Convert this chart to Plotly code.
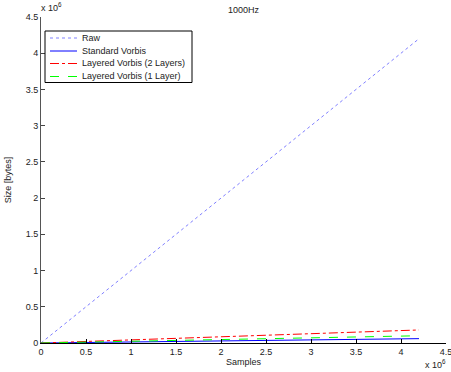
import plotly.graph_objects as go

samples = [0, 0.42e6, 0.84e6, 1.26e6, 1.68e6, 2.1e6, 2.52e6, 2.94e6, 3.36e6, 3.78e6, 4.2e6]
raw = [0, 0.42e6, 0.84e6, 1.26e6, 1.68e6, 2.1e6, 2.52e6, 2.94e6, 3.36e6, 3.78e6, 4.2e6]
standard = [0, 0.006e6, 0.012e6, 0.018e6, 0.024e6, 0.030e6, 0.036e6, 0.042e6, 0.048e6, 0.054e6, 0.060e6]
layered2 = [0, 0.018e6, 0.036e6, 0.054e6, 0.072e6, 0.090e6, 0.108e6, 0.126e6, 0.144e6, 0.162e6, 0.180e6]
layered1 = [0, 0.010e6, 0.020e6, 0.030e6, 0.040e6, 0.050e6, 0.060e6, 0.070e6, 0.080e6, 0.090e6, 0.100e6]

series_names = ["Raw", "Standard Vorbis", "Layered Vorbis (2 Layers)", "Layered Vorbis (1 Layer)"]
series_colors = ["#8080ff", "#0000ff", "#ff0000", "#00ff00"]
series_dash = ["dot", "solid", "dashdot", "dash"]

tick_vals = [0, 0.5e6, 1e6, 1.5e6, 2e6, 2.5e6, 3e6, 3.5e6, 4e6, 4.5e6]
tick_text = ["0", "0.5", "1", "1.5", "2", "2.5", "3", "3.5", "4", "4.5"]

font = "Liberation Sans, Arial, sans-serif"

W, H = 451, 372
ML, MR, MT, MB = 41, 5, 17, 29
PW, PH = W - ML - MR, H - MT - MB


def px(xp):
    return (xp - ML) / PW


def py(yp):
    return (H - MB - yp) / PH


fig = go.Figure()
for name, vals, col, dash in zip(series_names, [raw, standard, layered2, layered1], series_colors, series_dash):
    fig.add_trace(go.Scatter(x=samples, y=vals, mode="lines", name=name,
                             line=dict(color=col, width=1, dash=dash)))

shapes = [dict(type="rect", xref="paper", yref="paper",
               x0=px(45), x1=px(192), y0=py(31), y1=py(82.5),
               line=dict(color="black", width=1), fillcolor="white", layer="above")]
annotations = []
row_y = [38, 51, 63.5, 76.5]
for name, col, dash, ry in zip(series_names, series_colors, series_dash, row_y):
    shapes.append(dict(type="line", xref="paper", yref="paper",
                       x0=px(50), x1=px(77), y0=py(ry), y1=py(ry),
                       line=dict(color=col, width=1, dash=dash), layer="above"))
    annotations.append(dict(text=name, x=px(80), y=py(ry), xref="paper", yref="paper",
                            xanchor="left", yanchor="middle", showarrow=False,
                            font=dict(size=9, color="#222")))

annotations += [
    dict(text="1000Hz", x=0.5, y=1.0, xref="paper", yref="paper",
         xanchor="center", yanchor="bottom", yshift=0, showarrow=False,
         font=dict(size=9)),
    dict(text="x 10<sup>6</sup>", x=0.0, y=1.0, xref="paper", yref="paper",
         xanchor="left", yanchor="bottom", xshift=-2, yshift=2, showarrow=False,
         font=dict(size=9)),
    dict(text="x 10<sup>6</sup>", x=1.0, y=0.0, xref="paper", yref="paper",
         xanchor="right", yanchor="top", yshift=-13, xshift=2, showarrow=False,
         font=dict(size=9)),
]

fig.update_layout(
    width=W, height=H,
    margin=dict(l=ML, r=MR, t=MT, b=MB, autoexpand=False),
    paper_bgcolor="white", plot_bgcolor="white",
    font=dict(family=font, size=9, color="#222"),
    showlegend=False,
    xaxis=dict(range=[0, 4.5e6], tickvals=tick_vals, ticktext=tick_text,
               ticks="inside", ticklen=4, tickcolor="black",
               showline=True, linecolor="black", linewidth=1, automargin=False,
               showgrid=False, zeroline=False, ticklabeloverflow="allow",
               title=dict(text="Samples", standoff=2, font=dict(size=9))),
    yaxis=dict(range=[0, 4.5e6], tickvals=tick_vals, ticktext=tick_text,
               ticks="inside", ticklen=4, tickcolor="#444", automargin=False,
               showline=True, linecolor="#555", linewidth=1,
               showgrid=False, zeroline=False,
               title=dict(text="Size [bytes]", standoff=12, font=dict(size=9))),
    shapes=shapes,
    annotations=annotations,
)

fig.write_html("out.html")
